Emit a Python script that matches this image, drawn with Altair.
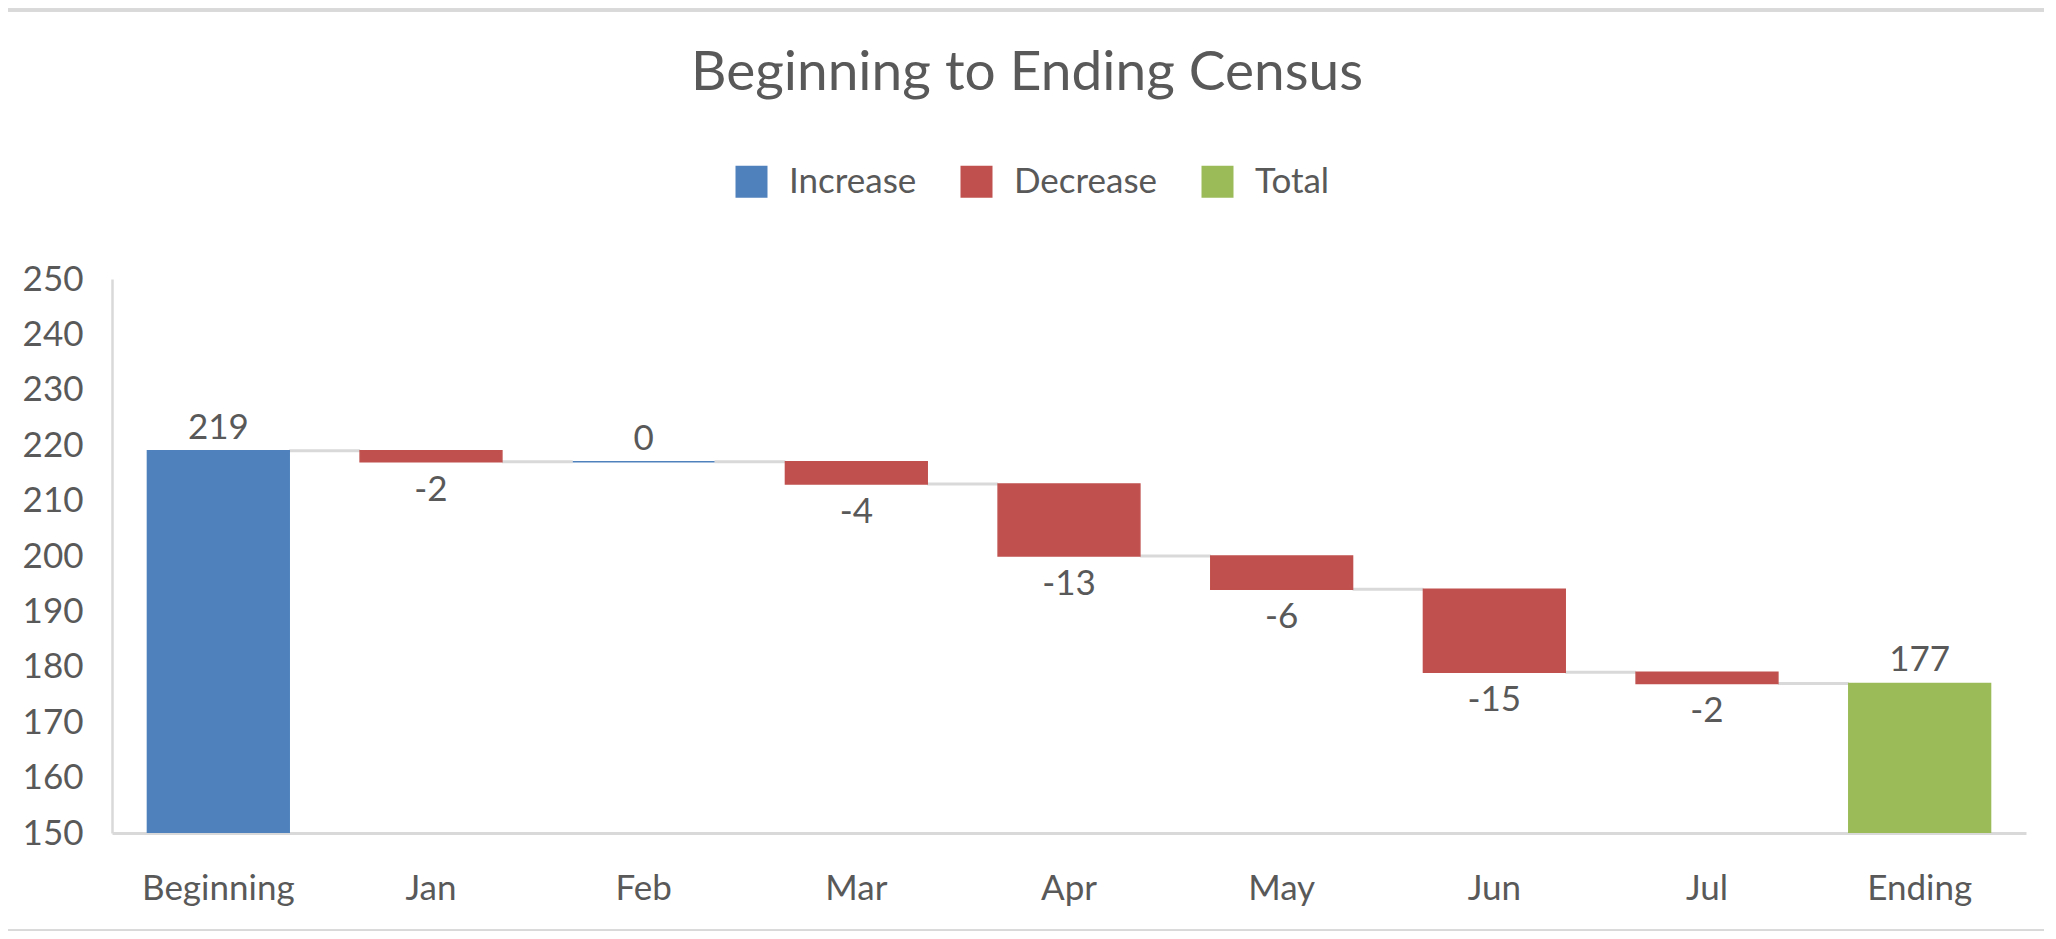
import altair as alt
import pandas as pd

categories = ["Beginning", "Jan", "Feb", "Mar", "Apr", "May", "Jun", "Jul", "Ending"]
changes = [219, -2, 0, -4, -13, -6, -15, -2, 177]
kinds = ["Increase", "Decrease", "Increase", "Decrease", "Decrease",
         "Decrease", "Decrease", "Decrease", "Total"]
y_ticks = list(range(150, 251, 10))

legend_names = ["Increase", "Decrease", "Total"]
legend_colors = ["#4F81BD", "#C0504D", "#9BBB59"]

TEXT = "#595959"
LINE = "#D9D9D9"
FONT = "Lato"

# running totals for the waterfall
rows = []
level = 0
for cat, chg, kind in zip(categories, changes, kinds):
    if kind == "Total" or cat == "Beginning":
        start, end = 0, chg
    else:
        start, end = level, level + chg
    level = end
    rows.append(dict(cat=cat, change=chg, kind=kind, start=start, end=end, label=str(chg)))
df = pd.DataFrame(rows)

links = pd.DataFrame({
    "cat": categories[:-1],
    "next": categories[1:],
    "level": df["end"].values[:-1],
})

x_scale = alt.Scale(domain=categories, paddingInner=1 / 3, paddingOuter=1 / 6)
y_scale = alt.Scale(domain=[150, 250], nice=False, zero=False)
color_scale = alt.Scale(domain=legend_names, range=legend_colors)

bars = alt.Chart(df).mark_bar(clip=True, strokeWidth=1.5).encode(
    x=alt.X("cat:N", scale=x_scale, sort=categories, title=None,
            axis=alt.Axis(labelAngle=0, labelAlign="center", bandPosition=0.5,
                          ticks=False, tickSize=0, labelPadding=66,
                          labelBaseline="alphabetic", domainColor=LINE, domainWidth=3)),
    y=alt.Y("start:Q", scale=y_scale, title=None,
            axis=alt.Axis(values=y_ticks, ticks=False, tickSize=0, labelPadding=29,
                          grid=False, domainColor=LINE, domainWidth=2.5)),
    y2="end:Q",
    color=alt.Color("kind:N", scale=color_scale, title=None,
                    legend=alt.Legend(orient="none", direction="horizontal",
                                      legendX=622, legendY=-115,
                                      symbolType="square", symbolSize=1024,
                                      symbolStrokeWidth=0, labelOffset=20,
                                      columnPadding=42, padding=0)),
    stroke=alt.Stroke("kind:N", scale=color_scale, legend=None),
)

connectors = alt.Chart(links).mark_rule(color=LINE, strokeWidth=3).encode(
    x=alt.X("cat:N", bandPosition=1, scale=x_scale, title=None),
    x2=alt.X2("next:N", bandPosition=0),
    y=alt.Y("level:Q", scale=y_scale, title=None),
)

labels_up = alt.Chart(df).transform_filter(
    alt.datum.kind != "Decrease"
).mark_text(dy=-12, baseline="alphabetic", fontSize=35, font=FONT, color=TEXT).encode(
    x=alt.X("cat:N", scale=x_scale, title=None),
    y=alt.Y("end:Q", scale=y_scale, title=None),
    text="label:N",
)

labels_down = alt.Chart(df).transform_filter(
    alt.datum.kind == "Decrease"
).mark_text(dy=39, baseline="alphabetic", fontSize=35, font=FONT, color=TEXT).encode(
    x=alt.X("cat:N", scale=x_scale, title=None),
    y=alt.Y("end:Q", scale=y_scale, title=None),
    text="label:N",
)

# thin outer frame lines like the spreadsheet chart area
frame_top = alt.Chart(df).mark_rule(color=LINE, strokeWidth=3).encode(
    x=alt.value(-104), x2=alt.value(1932), y=alt.value(-269))
frame_bottom = alt.Chart(df).mark_rule(color=LINE, strokeWidth=3).encode(
    x=alt.value(-104), x2=alt.value(1932), y=alt.value(652))

chart = alt.layer(
    frame_top, frame_bottom, connectors, bars, labels_up, labels_down
).properties(
    width=1914,
    height=554,
    autosize=alt.AutoSizeParams(type="none"),
    padding={"left": 104, "top": 271, "right": 18, "bottom": 98},
    title=alt.TitleParams("Beginning to Ending Census", font=FONT, fontSize=55,
                          fontWeight="normal", color=TEXT, anchor="middle",
                          dx=-42, baseline="alphabetic", offset=-136),
).configure_axis(
    labelFont=FONT,
    labelFontSize=35,
    labelColor=TEXT,
).configure_legend(
    labelFont=FONT,
    labelFontSize=35,
    labelColor=TEXT,
).configure_view(
    strokeWidth=0
)

chart.save("out.html", embed_options={"renderer": "svg", "actions": False})
